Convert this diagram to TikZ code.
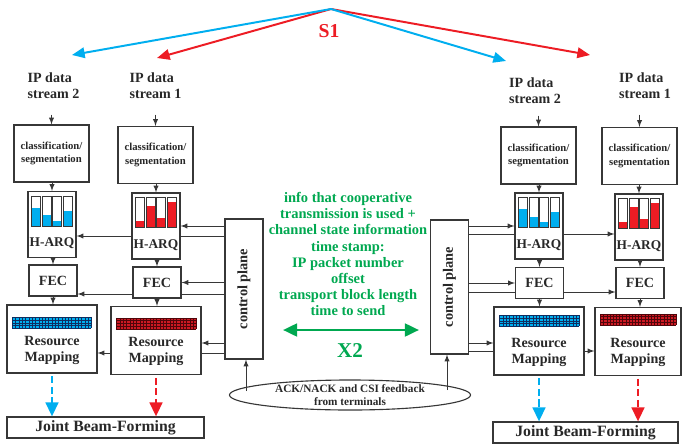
\documentclass[tikz,border=0pt]{standalone}
\usepackage{fontspec}
\setmainfont{Liberation Serif}
\usepackage{graphicx}
\usetikzlibrary{arrows, arrows.meta, shapes.geometric, calc, positioning}
\definecolor{sblue}{RGB}{0,174,239}
\definecolor{sred}{RGB}{237,28,36}
\definecolor{xgreen}{RGB}{0,168,80}
\definecolor{boxgray}{RGB}{55,55,55}
\definecolor{txtgray}{RGB}{40,40,40}
\definecolor{gridblue}{RGB}{15,45,95}
\definecolor{gridred}{RGB}{80,5,10}
\definecolor{rmred}{RGB}{205,25,35}

% bars of a H-ARQ buffer: node, colour, fill levels
\newcommand{\harqbars}[3]{%
  \begin{scope}[shift={(#1.north west)}]
    \foreach \lv [count=\i from 0] in {#3} {
      \fill[#2] (4+10.7*\i,35) rectangle ++(9,-30*\lv);
      \draw[draw=boxgray, line width=0.6pt] (4+10.7*\i,5) rectangle ++(9,30);
    }
  \end{scope}}
% resource grid: node, fill, lines, y offset, width
\newcommand{\rmgrid}[5]{%
  \begin{scope}[shift={(#1.north west)}]
    \fill[#2] (6,#4) rectangle ++(#5,11);
    \foreach \k in {0,...,24} \draw[#3, line width=0.35pt] (6+#5*\k/24,#4) -- ++(0,11);
    \foreach \k in {0,...,4} \draw[#3, line width=0.35pt] (6,#4+2.75*\k) -- ++(#5,0);
  \end{scope}}

\begin{document}
\begin{tikzpicture}[x=0.025cm, y=-0.025cm, >=latex,
  every node/.style={text=txtgray, font=\bfseries},
  blk/.style={draw=boxgray, line width=0.8pt, fill=white, inner sep=0pt, align=center},
  csbox/.style={blk, minimum width=1.875cm, minimum height=1.425cm, font=\fontsize{7.6}{9.5}\selectfont\bfseries},
  hqbox/.style={blk, minimum width=1.2cm, minimum height=1.65cm},
  fecbox/.style={blk, minimum width=1.2cm, minimum height=0.775cm, font=\fontsize{10}{12}\selectfont\bfseries},
  rmbox/.style={blk, minimum width=2.25cm, minimum height=1.7cm},
  cpbox/.style={blk, minimum width=0.95cm, font=\fontsize{10.2}{12}\selectfont\bfseries},
  jbfbox/.style={blk, minimum height=0.525cm, font=\fontsize{11.2}{13}\selectfont\bfseries},
  fbell/.style={ellipse, draw=boxgray, line width=0.8pt, minimum width=6.025cm, minimum height=0.75cm, inner sep=0pt, align=center, font=\fontsize{8}{9}\selectfont\bfseries},
  iplabel/.style={align=left, inner sep=1pt, font=\fontsize{10}{11.4}\selectfont\bfseries},
  hqtext/.style={inner sep=0pt, font=\fontsize{9.5}{11}\selectfont\bfseries},
  rmtext/.style={inner sep=0pt, align=center, font=\fontsize{10}{11.4}\selectfont\bfseries},
  x2text/.style={inner sep=0pt, align=center, text=xgreen, font=\fontsize{10.3}{11.4}\selectfont\bfseries},
  conn/.style={->, draw=boxgray, line width=0.7pt},
  wire/.style={draw=boxgray, line width=0.7pt},
  sarrow/.style={line width=1.4pt, -{Triangle[length=9pt,width=7.5pt]}},
  dasharrow/.style={line width=1.8pt, dash pattern=on 5pt off 2.5pt, shorten <=2pt, -{Triangle[length=10pt,width=9pt]}}]
\useasboundingbox (0,0) rectangle (682,447);

% S1 distribution
\coordinate (apex) at (331,9);
\coordinate (tipL2) at (72,55);
\coordinate (tipL1) at (157,58);
\coordinate (tipR2) at (506,61);
\coordinate (tipR1) at (590,55);
\draw[sarrow, sred] (apex) -- (tipL1);
\draw[sarrow, sred] (apex) -- (tipR1);
\draw[sarrow, sblue] (apex) -- (tipL2);
\draw[sarrow, sblue] (apex) -- (tipR2);
\node[font=\fontsize{14}{16}\selectfont\bfseries, text=sred] (s1) at (329,31) {S1};

\path (53.5,86) node[iplabel] (ipL2) {IP data\\stream 2}
  (155.5,86) node[iplabel] (ipL1) {IP data\\stream 1}
  (535,91) node[iplabel] (ipR2) {IP data\\stream 2}
  (645,86) node[iplabel] (ipR1) {IP data\\stream 1};

% left site
\path (51.5,153.5) node[csbox] (cs2L) {classification/\\segmentation}
  (155.5,155) node[csbox] (cs1L) {classification/\\segmentation}
  (52,224.5) node[hqbox] (hq2L) {}
  (156,226) node[hqbox] (hq1L) {}
  (53,280.5) node[fecbox] (fec2L) {FEC}
  (157,282.5) node[fecbox] (fec1L) {FEC}
  (52,339) node[rmbox] (rm2L) {}
  (156,340.5) node[rmbox] (rm1L) {}
  (105.5,427.5) node[jbfbox, minimum width=4.925cm] (jbfL) {Joint Beam-Forming}
  (244,289) node[cpbox, minimum height=3.5cm] (cpL) {\rotatebox{90}{control plane}};

% right site
\path (538.5,155.5) node[csbox] (cs2R) {classification/\\segmentation}
  (639.5,156) node[csbox] (cs1R) {classification/\\segmentation}
  (539,226) node[hqbox] (hq2R) {}
  (639,227) node[hqbox] (hq1R) {}
  (539.5,283) node[fecbox] (fec2R) {FEC}
  (640,283) node[fecbox] (fec1R) {FEC}
  (539,341) node[rmbox] (rm2R) {}
  (638,341.5) node[rmbox, minimum width=2.15cm] (rm1R) {}
  (585.5,432.5) node[jbfbox, minimum width=4.625cm] (jbfR) {Joint Beam-Forming}
  (449.5,287) node[cpbox, minimum height=3.35cm] (cpR) {\rotatebox{90}{control plane}};

\node[fbell] (fb) at (350,395) {ACK/NACK and CSI feedback\\from terminals};

% buffers and grids
\harqbars{hq2L}{sblue}{0.6,0.35,0.17,0.5}
\harqbars{hq1L}{sred}{0.22,0.72,0.3,0.86}
\harqbars{hq2R}{sblue}{0.6,0.35,0.17,0.5}
\harqbars{hq1R}{sred}{0.22,0.72,0.3,0.86}
\rmgrid{rm2L}{sblue}{gridblue}{13}{79}
\rmgrid{rm1L}{rmred}{gridred}{12}{80}
\rmgrid{rm2R}{sblue}{gridblue}{9}{80}
\rmgrid{rm1R}{rmred}{gridred}{7}{76}

\node[hqtext] (hq2Lt) at ($(hq2L.center)+(0,19)$) {H-ARQ};
\node[hqtext] (hq1Lt) at ($(hq1L.center)+(0,19)$) {H-ARQ};
\node[hqtext] (hq2Rt) at ($(hq2R.center)+(0,19)$) {H-ARQ};
\node[hqtext] (hq1Rt) at ($(hq1R.center)+(0,19)$) {H-ARQ};
\node[rmtext] (rm2Lt) at ($(rm2L.center)+(0,11)$) {Resource\\Mapping};
\node[rmtext] (rm1Lt) at ($(rm1L.center)+(0,11)$) {Resource\\Mapping};
\node[rmtext] (rm2Rt) at ($(rm2R.center)+(0,11)$) {Resource\\Mapping};
\node[rmtext] (rm1Rt) at ($(rm1R.center)+(0,11)$) {Resource\\Mapping};

% chains
\draw[conn, shorten <=0.35cm] (ipL2.south -| cs2L.north) -- (cs2L.north);
\draw[conn, shorten <=0.35cm] (ipL1.south -| cs1L.north) -- (cs1L.north);
\draw[conn, shorten <=0.25cm] (ipR2.south -| cs2R.north) -- (cs2R.north);
\draw[conn, shorten <=0.35cm] (ipR1.south -| cs1R.north) -- (cs1R.north);
\draw[conn] (hq2L.north |- cs2L.south) -- (hq2L.north);
\draw[conn] (hq1L.north |- cs1L.south) -- (hq1L.north);
\draw[conn] (hq2R.north |- cs2R.south) -- (hq2R.north);
\draw[conn] (hq1R.north |- cs1R.south) -- (hq1R.north);
\draw[conn] (fec2L.north |- hq2L.south) -- (fec2L.north);
\draw[conn] (fec1L.north |- hq1L.south) -- (fec1L.north);
\draw[conn] (fec2R.north |- hq2R.south) -- (fec2R.north);
\draw[conn] (fec1R.north |- hq1R.south) -- (fec1R.north);
\draw[conn] (fec2L.south) -- (fec2L.south |- rm2L.north);
\draw[conn] (fec1L.south) -- (fec1L.south |- rm1L.north);
\draw[conn] (fec2R.south) -- (fec2R.south |- rm2R.north);
\draw[conn] (fec1R.south) -- (fec1R.south |- rm1R.north);

% control plane, left
\draw[conn] (cpL.west |- hq1L.east) -- (hq1L.east);
\coordinate (hqwL) at ($(hq1L.east)+(0,10)$);
\draw[wire] (cpL.west |- hqwL) -- (hqwL);
\draw[conn] (hq1L.west |- hqwL) -- (hq2L.east |- hqwL);
\draw[conn] (cpL.west |- fec1L.east) -- (fec1L.east);
\coordinate (fecwL) at ($(fec1L.east)+(0,11.5)$);
\draw[wire] (cpL.west |- fecwL) -- (fecwL);
\draw[conn] (fec1L.west |- fecwL) -- (fec2L.east |- fecwL);
\coordinate (rmaL) at ($(rm1L.east)+(0,2.5)$);
\draw[conn] (cpL.west |- rmaL) -- (rmaL);
\coordinate (rmwL) at ($(rm1L.east)+(0,12.5)$);
\draw[wire] (cpL.west |- rmwL) -- (rmwL);
\draw[conn] (rm1L.west |- rmwL) -- (rm2L.east |- rmwL);

% control plane, right
\draw[conn] (cpR.east |- hq2R.west) -- (hq2R.west);
\coordinate (hqwR) at ($(hq2R.west)+(0,8)$);
\draw[wire] (cpR.east |- hqwR) -- (hqwR);
\draw[conn] (hq2R.east |- hqwR) -- (hq1R.west |- hqwR);
\draw[conn] (cpR.east |- fec2R.west) -- (fec2R.west);
\coordinate (fecwR) at ($(fec2R.west)+(0,9)$);
\draw[wire] (cpR.east |- fecwR) -- (fecwR);
\draw[conn] (fec2R.east |- fecwR) -- (fec1R.west |- fecwR);
\coordinate (rmaR) at ($(rm2R.west)+(0,2)$);
\draw[conn] (cpR.east |- rmaR) -- (rmaR);
\coordinate (rmwR) at ($(rm2R.west)+(0,10)$);
\draw[wire] (cpR.east |- rmwR) -- (rmwR);
\draw[conn] (rm2R.east |- rmwR) -- (rm1R.west |- rmwR);

% feedback
\coordinate (fbL) at (246,391);
\coordinate (fbR) at (447,390);
\draw[conn] (fbL) -- (fbL |- cpL.south);
\draw[conn] (fbR) -- (fbR |- cpR.south);

% beam-forming
\draw[dasharrow, sblue] (rm2L.south) -- (rm2L.south |- jbfL.north);
\draw[dasharrow, sred] (rm1L.south) -- (rm1L.south |- jbfL.north);
\draw[dasharrow, sblue] (rm2R.south) -- (rm2R.south |- jbfR.north);
\draw[dasharrow, sred] (rm1R.south) -- (rm1R.south |- jbfR.north);

% X2
\node[x2text] (info) at (348,254) {info that cooperative\\transmission is used +\\channel state information\\time stamp:\\IP packet number\\offset\\transport block length\\time to send};
\coordinate (x2a) at (283,330);
\coordinate (x2b) at (419,330);
\draw[line width=2pt, xgreen, {Triangle[length=10pt,width=9pt]}-{Triangle[length=10pt,width=9pt]}] (x2a) -- (x2b);
\node[font=\fontsize{15}{17}\selectfont\bfseries, text=xgreen] (x2) at (350,351) {X2};
\end{tikzpicture}
\end{document}
